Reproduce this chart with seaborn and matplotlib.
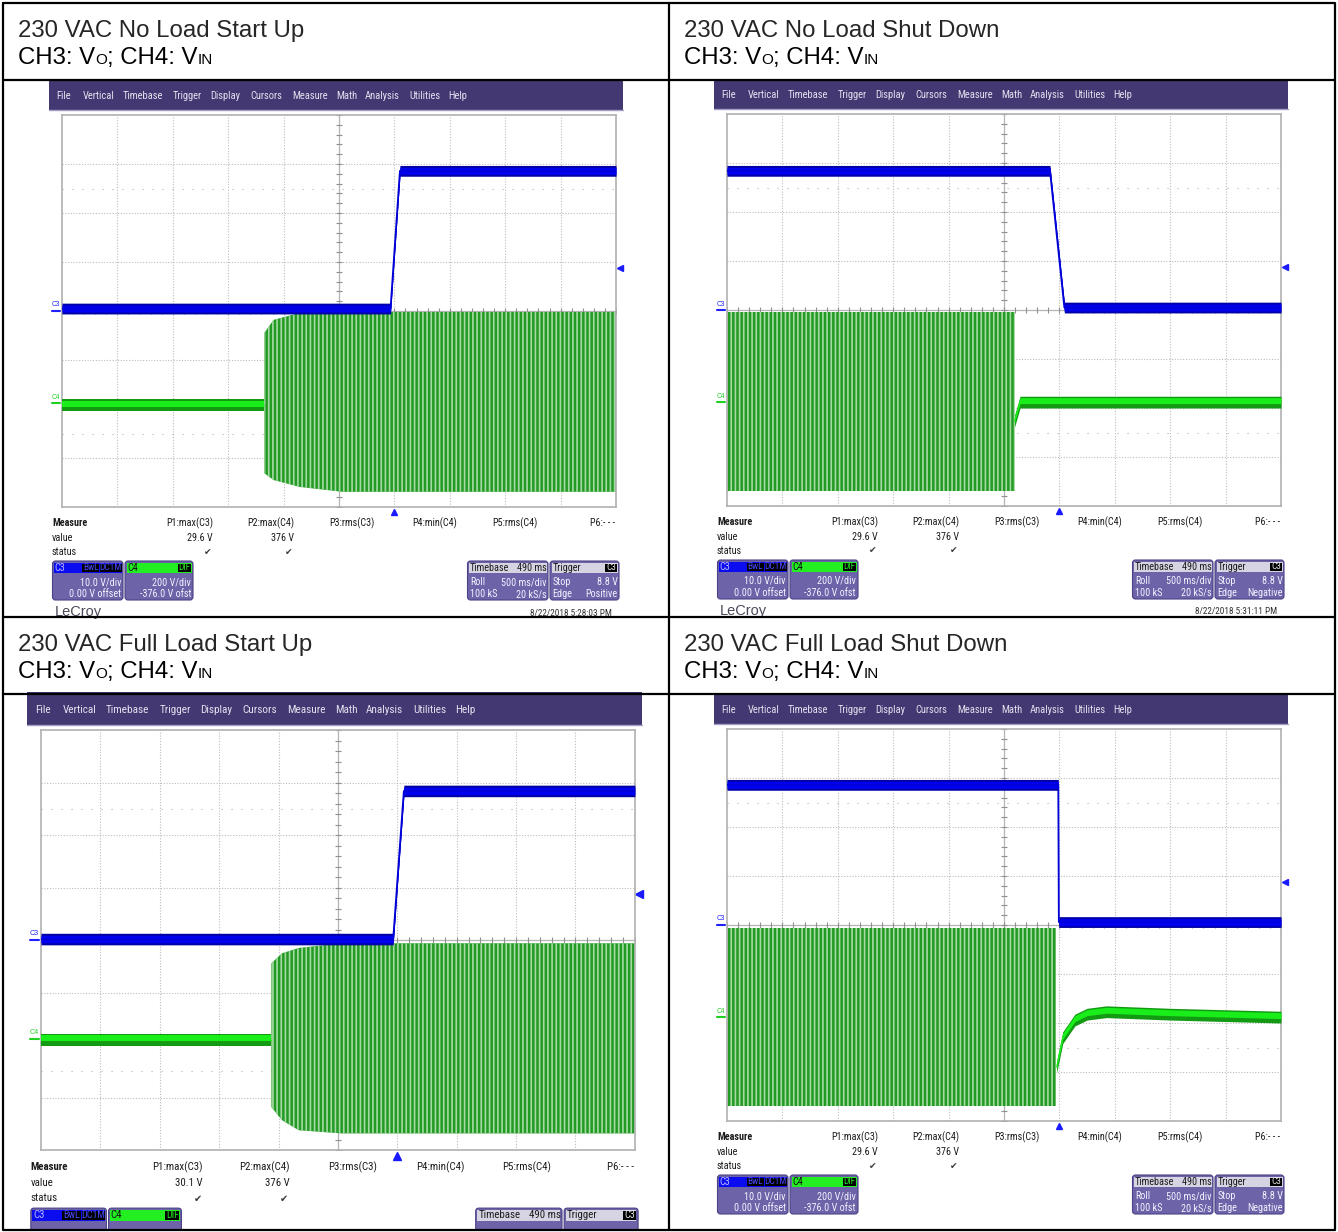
import numpy as np
import pandas as pd
import matplotlib
matplotlib.use("Agg")
import matplotlib.pyplot as plt
from matplotlib import font_manager
from matplotlib.patches import Rectangle, FancyBboxPatch
import seaborn as sns

W, H = 1338, 1232

titles = ["230 VAC No Load Start Up", "230 VAC No Load Shut Down",
          "230 VAC Full Load Start Up", "230 VAC Full Load Shut Down"]
p1_values = ["29.6 V", "29.6 V", "30.1 V", "29.6 V"]
p2_values = ["376 V", "376 V", "376 V", "376 V"]
trigger_slopes = ["Positive", "Negative", "Positive", "Negative"]
timestamps = ["8/22/2018 5:28:03 PM", "8/22/2018 5:31:11 PM", "", "8/22/2018 5:30:07 PM"]
measure_labels = ["P1:max(C3)", "P2:max(C4)", "P3:rms(C3)", "P4:min(C4)", "P5:rms(C4)", "P6:- - -"]
menu_items = ["File", "Vertical", "Timebase", "Trigger", "Display", "Cursors",
              "Measure", "Math", "Analysis", "Utilities", "Help"]

# traces in screen divisions (x: 0..10, y: -4..4)
c3_x = [[0, 5.93, 6.10, 10], [0, 5.83, 6.09, 10], [0, 5.93, 6.11, 10], [0, 5.98, 5.99, 10]]
c3_y = [[0.05, 0.05, 2.86, 2.86], [2.84, 2.84, 0.05, 0.05],
        [0.02, 0.02, 2.84, 2.84], [2.86, 2.86, 0.06, 0.06]]

c4_dc_x = [[0, 3.65], [5.19, 5.29, 10], [0, 3.88], [5.95, 6.06, 6.28, 6.5, 6.85, 8.0, 10]]
c4_dc_y = [[-1.92, -1.92], [-2.27, -1.88, -1.88], [-1.90, -1.90],
           [-2.9, -2.3, -1.94, -1.82, -1.77, -1.82, -1.88]]

c4_ac_x = [[3.65, 3.82, 4.29, 5.06, 10], [0, 5.19], [3.88, 4.06, 4.34, 5.07, 10], [0, 5.94]]
c4_ac_top = [[-0.45, -0.18, -0.04, -0.02, -0.02], [-0.05, -0.05],
             [-0.44, -0.25, -0.15, -0.06, -0.06], [-0.06, -0.06]]
c4_ac_bot = [[-3.31, -3.45, -3.59, -3.69, -3.69], [-3.70, -3.70],
             [-3.18, -3.43, -3.62, -3.68, -3.68], [-3.70, -3.70]]

trig_pos = 6.0
trig_level = 0.88
c4_offset_div = -1.88

# layout (pixels)
grid_origin = [(62, 115, 1.0), (727, 114, 1.0), (41, 730, 1.072), (727, 729, 1.0)]
title_origin = [(18, 36.7), (684, 36.7), (18, 650.7), (684, 650.7)]
GW, GH = 554, 392
menu_x = [-5.5, 20.5, 60.5, 110.5, 148, 188, 230, 274.5, 303, 347, 386]
measure_right = [151, 232, 313, 395, 476, 553]

MENU = "#443872"
BOX = "#6d63a8"
BOX_EDGE = "#4a4286"
BLUE = "#0000f0"
GREEN = "#1aee1a"
INK = "#1c1c1c"

sns.set_theme(style="white")
plt.rcParams["font.family"] = ["Liberation Sans", "DejaVu Sans"]
plt.rcParams["hatch.linewidth"] = 1.2

# scope UI uses a narrow sans; pick one that is installed
installed = {f.name for f in font_manager.fontManager.ttflist}
UI_FONT, UI_STRETCH, UI_SIZE, MENU_SIZE = ["Liberation Sans", "DejaVu Sans"], "normal", 6.6, 6.8
for name, size in (("Liberation Sans Narrow", 7.7), ("Arial Narrow", 7.7), ("Roboto Condensed", 7.3)):
    if name in installed:
        UI_FONT, UI_SIZE, MENU_SIZE = [name, "DejaVu Sans"], size, size + 0.3
        break
else:
    if any("DejaVuSansCondensed" in f.fname for f in font_manager.fontManager.ttflist):
        UI_FONT, UI_STRETCH, UI_SIZE, MENU_SIZE = ["DejaVu Sans"], "condensed", 6.5, 6.8

fig = plt.figure(figsize=(W / 100, H / 100), dpi=100)
bg = fig.add_axes([0, 0, 1, 1])
bg.set_xlim(0, W)
bg.set_ylim(H, 0)
bg.axis("off")
renderer = fig.canvas.get_renderer()


def rich(x, y, parts):
    for txt, size in parts:
        t = bg.text(x, y, txt, fontsize=size, va="baseline", ha="left", color="black")
        x += t.get_window_extent(renderer).width


def draw_panel(i):
    gx, gy, s = grid_origin[i]

    def P(dx, dy):
        return gx + dx * s, gy + dy * s

    def D(xd, yd):
        return gx + xd / 10 * GW * s, gy + (4 - yd) / 8 * GH * s

    def ui(dx, dy, txt, **kw):
        x, y = P(dx, dy)
        if y > 1224:  # below the table cell, not visible
            return
        kw.setdefault("fontsize", UI_SIZE * s)
        kw.setdefault("color", INK)
        kw.setdefault("va", "center")
        kw.setdefault("family", UI_FONT)
        kw.setdefault("fontstretch", UI_STRETCH)
        bg.text(x, y, txt, **kw)

    # title
    tx, ty = title_origin[i]
    bg.text(tx, ty, titles[i], fontsize=17.3, va="baseline", ha="left")
    rich(tx, ty + 27.6, [("CH3: V", 17.3), ("O", 11), ("; CH4: V", 17.3), ("IN", 11)])

    # menu bar
    mx0, my0 = P(-13, -35)
    bg.add_patch(Rectangle((mx0, my0), 574 * s, 30 * s, facecolor=MENU, edgecolor="none"))
    bg.plot([mx0, mx0 + 574 * s], [my0 + 30 * s] * 2, color="#a49fc6", lw=1)
    for name, xm in zip(menu_items, menu_x):
        ui(xm, -19, name, color="#e2e0ee", fontsize=MENU_SIZE * s)

    # scope screen
    ax = fig.add_axes([gx / W, 1 - (gy + GH * s) / H, GW * s / W, GH * s / H])
    ax.set_xlim(0, 10)
    ax.set_ylim(-4, 4)
    ax.set_xticks([])
    ax.set_yticks([])
    for sp in ax.spines.values():
        sp.set_color("#b0b0b0")
        sp.set_linewidth(1.2)
    for k in range(1, 10):
        if k != 5:
            ax.axvline(k, color="#bcbcbc", lw=0.8, ls=(0, (1, 1.5)), zorder=0)
    for k in range(-3, 4):
        if k != 0:
            ax.axhline(k, color="#bcbcbc", lw=0.8, ls=(0, (1, 1.5)), zorder=0)
    for k in (-2.5, 2.5):
        ax.axhline(k, color="#b0b0b0", lw=0.8, ls=(0, (1, 8)), zorder=0)
    ax.axvline(5, color="#b4b4b4", lw=0.9, zorder=0)
    ax.axhline(0, color="#b4b4b4", lw=0.9, zorder=0)
    ticks = np.arange(-4, 4.01, 0.2)
    ax.plot([5] * len(ticks), ticks, ls="none", marker="_", ms=5, mew=0.8, color="#909090", zorder=0)
    ticks = np.arange(0, 10.01, 0.2)
    ax.plot(ticks, [0] * len(ticks), ls="none", marker="|", ms=5, mew=0.8, color="#909090", zorder=0)

    # C4 (input) trace: AC envelope + DC segment
    ax.fill_between(c4_ac_x[i], c4_ac_bot[i], c4_ac_top[i], facecolor="#239a23",
                    edgecolor="#a4daa4", hatch="||||", lw=0, zorder=2)
    dx_ = np.array(c4_dc_x[i])
    dy_ = np.array(c4_dc_y[i])
    ax.fill_between(dx_, dy_ - 0.12, dy_ + 0.12, color="#139a13", lw=0, zorder=3)
    ax.fill_between(dx_, dy_ - 0.03, dy_ + 0.09, color=GREEN, lw=0, zorder=3)
    sns.lineplot(x=c4_dc_x[i], y=c4_dc_y[i], ax=ax, color=GREEN, lw=0.8,
                 sort=False, estimator=None, zorder=3)

    # C3 (output) trace
    cx = np.array(c3_x[i])
    cy = np.array(c3_y[i])
    ax.fill_between(cx, cy - 0.11, cy + 0.11, color="#0000a8", lw=0, zorder=4)
    ax.fill_between(cx, cy - 0.07, cy + 0.07, color=BLUE, lw=0, zorder=4)
    sns.lineplot(x=c3_x[i], y=c3_y[i], ax=ax, color="#0000d8", lw=1.3,
                 sort=False, estimator=None, zorder=4)
    ax.set_xlabel("")
    ax.set_ylabel("")

    # trigger markers
    ax.plot(trig_pos, -4.11, marker="^", ms=5 * s, color="#1a1aff", clip_on=False, ls="none")
    ax.plot(10.07, trig_level, marker="<", ms=5 * s, color="#1a1aff", clip_on=False, ls="none")

    # channel ground markers on the left
    for lvl, col, lab in ((0, "#2020ff", "C3"), (c4_offset_div, "#20d020", "C4")):
        px_, py_ = D(0, lvl)
        bg.text(px_ - 6 * s, py_ - 6 * s, lab, color=col, fontsize=4.8 * s, ha="center", va="center")
        bg.plot([px_ - 10 * s, px_ - 2 * s], [py_, py_], color=col, lw=1.5)

    # measurement table
    ui(-10, 408, "Measure", fontweight="bold")
    for lab, rx in zip(measure_labels, measure_right):
        ui(rx, 408, lab, ha="right")
    ui(-10, 423, "value")
    ui(151, 423, p1_values[i], ha="right")
    ui(232, 423, p2_values[i], ha="right")
    ui(-10, 437, "status")
    for cxk in (146, 227):
        ui(cxk, 437, "\u2714", ha="center", color="#3a3a3a", family="DejaVu Sans",
           fontstretch="normal", fontsize=6.6 * s)

    # descriptor boxes
    def box(x0, x1, strip):
        bx, by = P(x0, 446)
        bg.add_patch(FancyBboxPatch((bx, by), (x1 - x0) * s, 39 * s,
                                    boxstyle=f"round,pad=0,rounding_size={3 * s}",
                                    fc=BOX, ec=BOX_EDGE, lw=0.8))
        sx, sy = P(x0 + 1.5, 447.5)
        bg.add_patch(Rectangle((sx, sy), (x1 - x0 - 3) * s, 10.5 * s, fc=strip, ec="none"))

    def badge(x0, x1, txt, col):
        bx, by = P(x0, 448.5)
        bg.add_patch(Rectangle((bx, by), (x1 - x0) * s, 8.5 * s, fc="black", ec="none"))
        ui((x0 + x1) / 2, 452.8, txt, fontsize=(UI_SIZE - 0.6) * s, color=col, ha="center")

    wt = "#f2f2ff"
    box(-9.5, 61, "#0c0cf0")
    ui(-7.5, 452.8, "C3", color="#b8b8ff")
    badge(20, 37, "BwL", "#4848ff")
    badge(38, 59.5, "DC1M", "#4848ff")
    ui(59, 467, "10.0 V/div", color=wt, ha="right")
    ui(59, 479, "0.00 V offset", color=wt, ha="right")

    box(63, 131, "#22ee22")
    ui(65, 452.8, "C4", color="#101010")
    badge(116, 129, "DIF", "#22ee22")
    ui(129, 467, "200 V/div", color=wt, ha="right")
    ui(129, 479, "-376.0 V ofst", color=wt, ha="right")

    box(405.5, 486, "#d6d4e2")
    ui(408, 452.8, "Timebase")
    ui(484.5, 452.8, "490 ms", ha="right")
    ui(408, 467, "Roll", color=wt)
    ui(484.5, 467, "500 ms/div", color=wt, ha="right")
    ui(408, 479, "100 kS", color=wt)
    ui(484.5, 479, "20 kS/s", color=wt, ha="right")

    box(488, 557, "#d6d4e2")
    ui(490.5, 452.8, "Trigger")
    badge(543, 555, "C3", "#e8e8e8")
    ui(490.5, 467, "Stop", color=wt)
    ui(555.5, 467, "8.8 V", color=wt, ha="right")
    ui(490.5, 479, "Edge", color=wt)
    ui(555.5, 479, trigger_slopes[i], color=wt, ha="right")

    ui(-7, 501, "LeCroy", fontsize=10.5 * s, color="#4a4a5a", va="baseline",
       family=["Liberation Sans"], fontstretch="normal")
    if timestamps[i]:
        ui(550, 498, timestamps[i], fontsize=(UI_SIZE - 0.6) * s, color="#303030", ha="right")


for i in range(4):
    draw_panel(i)

# table frame
lw = 1.6
bg.add_patch(Rectangle((0, 1231), W, 5, fc="white", ec="none", zorder=9))
bg.plot([3, 1335, 1335, 3, 3], [3, 3, 1230, 1230, 3], color="black", lw=lw, zorder=10)
for yl in (79.5, 616.5, 694):
    bg.plot([3, 1335], [yl, yl], color="black", lw=lw, zorder=10)
bg.plot([668.5, 668.5], [3, 1230], color="black", lw=lw, zorder=10)

fig.savefig("out.png", dpi=100)
